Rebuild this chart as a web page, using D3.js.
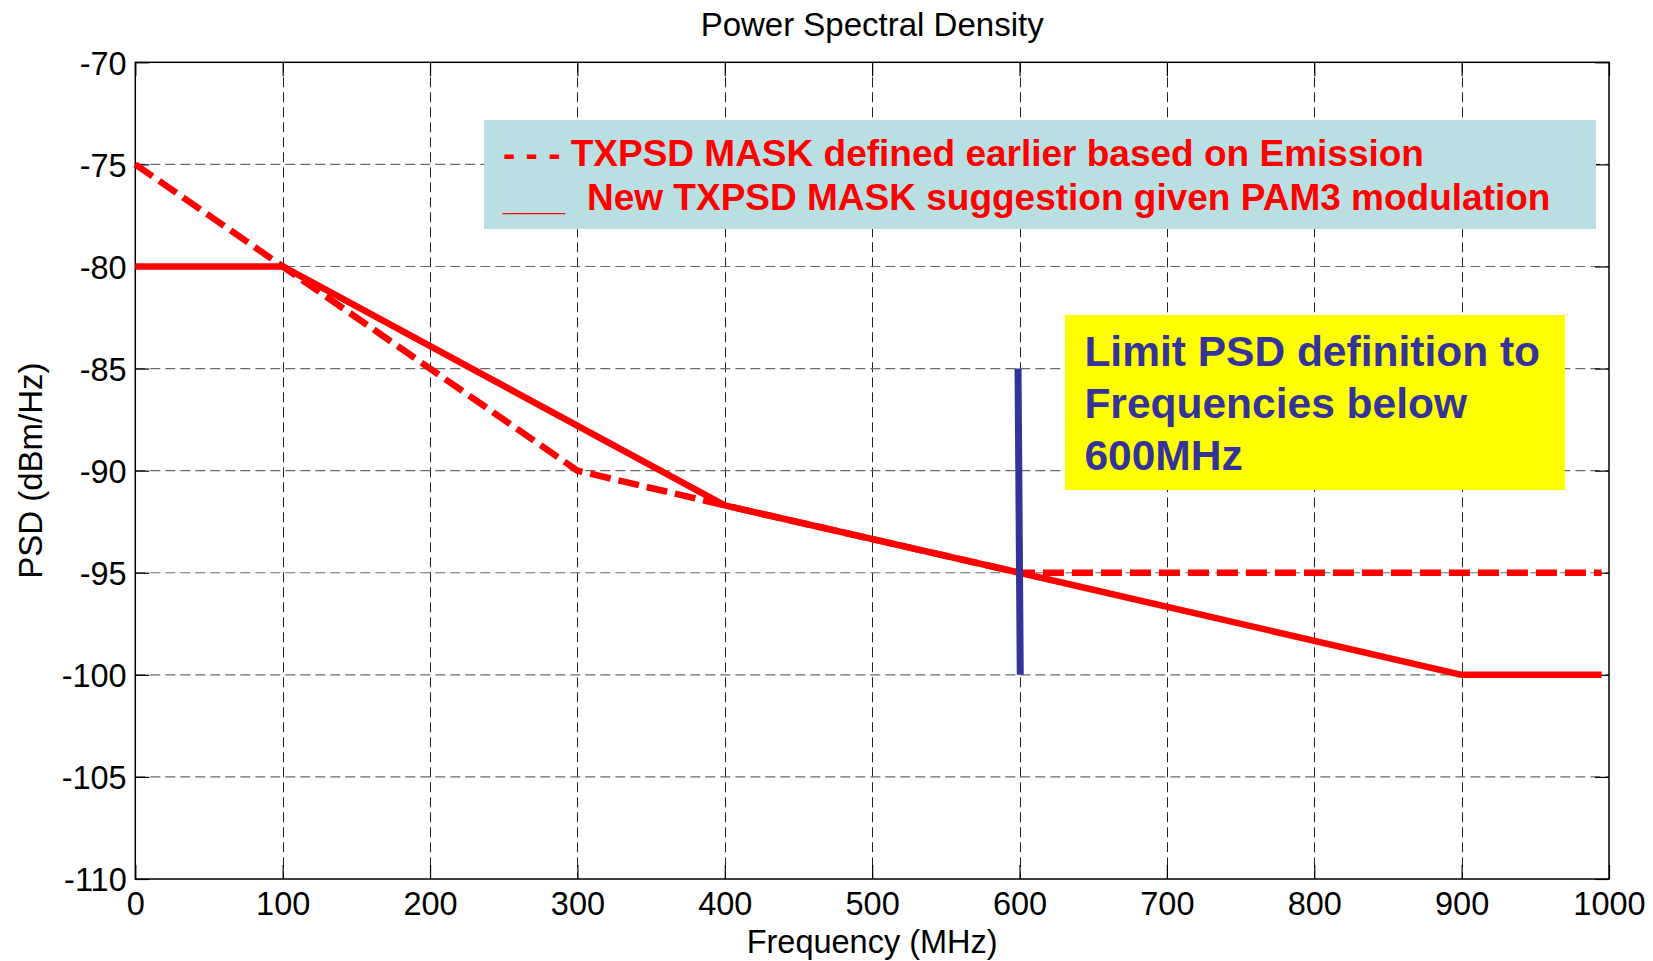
<!DOCTYPE html>
<html>
<head>
<meta charset="utf-8">
<script src="https://cdn.jsdelivr.net/npm/d3@7"></script>
<style>
  html, body { margin: 0; padding: 0; background: #fff; }
  svg { display: block; font-family: Arial, "Liberation Sans", sans-serif; }
</style>
</head>
<body>
<svg id="chart" width="1653" height="961"></svg>
<script>
// ---- data ----
const xTicks = [0, 100, 200, 300, 400, 500, 600, 700, 800, 900, 1000];
const yTicks = [-110, -105, -100, -95, -90, -85, -80, -75, -70];
// TXPSD mask defined earlier (dashed)
const oldMaskFreq = [0, 100, 300, 400, 600, 995];
const oldMaskPsd  = [-75, -80, -90, -91.7, -95, -95];
// New TXPSD mask suggestion (solid)
const newMaskFreq = [0, 100, 400, 600, 900, 995];
const newMaskPsd  = [-80, -80, -91.7, -95, -100, -100];
// 600 MHz limit marker
const limitFreq = [599, 600.5];
const limitPsd  = [-85, -100];

const titleText = "Power Spectral Density";
const xLabel = "Frequency (MHz)";
const yLabel = "PSD (dBm/Hz)";
const legendLines = [
  ["- - -", "TXPSD MASK defined earlier based on Emission"],
  ["___", "New TXPSD MASK suggestion given PAM3 modulation"]
];
const noteLines = ["Limit PSD definition to", "Frequencies below", "600MHz"];

// ---- layout ----
const L = 135.3, R = 1609, T = 62.3, B = 879;
const svg = d3.select("#chart");
const x = d3.scaleLinear().domain([0, 1000]).range([L, R]);
const y = d3.scaleLinear().domain([-110, -70]).range([B, T]);

// grid
const grid = svg.append("g");
grid.selectAll("line.vg").data(xTicks.slice(1, -1)).enter().append("line")
  .attr("x1", d => Math.round(x(d)) + 0.5).attr("x2", d => Math.round(x(d)) + 0.5)
  .attr("y1", T).attr("y2", B)
  .attr("stroke", "#222").attr("stroke-width", 1).attr("stroke-dasharray", "10,5");
grid.selectAll("line.hg").data(yTicks.slice(1, -1)).enter().append("line")
  .attr("x1", L).attr("x2", R)
  .attr("y1", d => y(d)).attr("y2", d => y(d))
  .attr("stroke", "#6a6a6a").attr("stroke-width", 1.2).attr("stroke-dasharray", "10,5");

// axes box
svg.append("rect").attr("x", L).attr("y", T).attr("width", R - L).attr("height", B - T)
  .attr("fill", "none").attr("stroke", "#000").attr("stroke-width", 1.5);

// ticks (inside, all four sides) and labels via d3 axes
const tickLen = 14;
const fontSize = 32.5;
const fmt = d => String(d);
const xAxisB = d3.axisBottom(x).tickValues(xTicks).tickSize(-tickLen).tickPadding(tickLen + 8).tickFormat(fmt);
const xAxisT = d3.axisTop(x).tickValues(xTicks).tickSize(-tickLen).tickFormat("");
const yAxisL = d3.axisLeft(y).tickValues(yTicks).tickSize(-tickLen).tickPadding(tickLen + 8).tickFormat(fmt);
const yAxisR = d3.axisRight(y).tickValues(yTicks).tickSize(-tickLen).tickFormat("");

function styleAxis(g) {
  g.select(".domain").remove();
  g.selectAll(".tick line").attr("stroke", "#000").attr("stroke-width", 1.2);
  g.selectAll(".tick text").attr("fill", "#000").attr("font-size", fontSize)
    .attr("font-family", 'Arial, "Liberation Sans", sans-serif');
}
svg.append("g").attr("transform", `translate(0,${B})`).call(xAxisB).call(styleAxis)
  .selectAll(".tick text").attr("dy", null).attr("y", 36);
svg.append("g").attr("transform", `translate(0,${T})`).call(xAxisT).call(styleAxis);
svg.append("g").attr("transform", `translate(${L},0)`).call(yAxisL).call(styleAxis)
  .selectAll(".tick text").attr("x", -8.6).attr("dy", "0.36em");
svg.append("g").attr("transform", `translate(${R},0)`).call(yAxisR).call(styleAxis);

// labels
svg.append("text").attr("x", (L + R) / 2).attr("y", 36).attr("text-anchor", "middle")
  .attr("font-size", 33).attr("fill", "#000").text(titleText);
svg.append("text").attr("x", (L + R) / 2).attr("y", 953).attr("text-anchor", "middle")
  .attr("font-size", fontSize).attr("fill", "#000").text(xLabel);
svg.append("text").attr("transform", `translate(42,${(T + B) / 2}) rotate(-90)`)
  .attr("text-anchor", "middle").attr("font-size", 33).attr("fill", "#000").text(yLabel);

// lines
const line = d3.line().x(d => x(d[0])).y(d => y(d[1]));
const oldData = oldMaskFreq.map((f, i) => [f, oldMaskPsd[i]]);
const newData = newMaskFreq.map((f, i) => [f, newMaskPsd[i]]);
const limData = limitFreq.map((f, i) => [f, limitPsd[i]]);

svg.append("path").datum(newData).attr("d", line)
  .attr("fill", "none").attr("stroke", "#ff0000").attr("stroke-width", 6.5)
  .attr("stroke-linejoin", "round");
svg.append("path").datum(oldData).attr("d", line)
  .attr("fill", "none").attr("stroke", "#ff0000").attr("stroke-width", 6.5)
  .attr("stroke-dasharray", "21,8");
svg.append("path").datum(limData).attr("d", line)
  .attr("fill", "none").attr("stroke", "#333399").attr("stroke-width", 7);

// legend box (annotation)
svg.append("rect").attr("x", 484).attr("y", 120).attr("width", 1596 - 484).attr("height", 229 - 120)
  .attr("fill", "#b9dfe2");
const leg = svg.append("g").attr("font-weight", "bold").attr("font-size", 37).attr("fill", "#ff0000");
const legX = [[503, 570.7], [503, 587]];
const legY = [166, 210];
legendLines.forEach((ln, i) => {
  const t = leg.append("text").attr("y", legY[i]);
  t.append("tspan").attr("x", legX[i][0]).text(ln[0]);
  t.append("tspan").attr("x", legX[i][1]).text(ln[1]);
});

// yellow note box
svg.append("rect").attr("x", 1065).attr("y", 315).attr("width", 500).attr("height", 175)
  .attr("fill", "#ffff00");
const noteY = [366, 418, 470];
const note = svg.append("g").attr("font-weight", "bold").attr("font-size", 42.5).attr("fill", "#333399");
noteLines.forEach((s, i) => {
  note.append("text").attr("x", 1084.4).attr("y", noteY[i]).text(s);
});
</script>
</body>
</html>
